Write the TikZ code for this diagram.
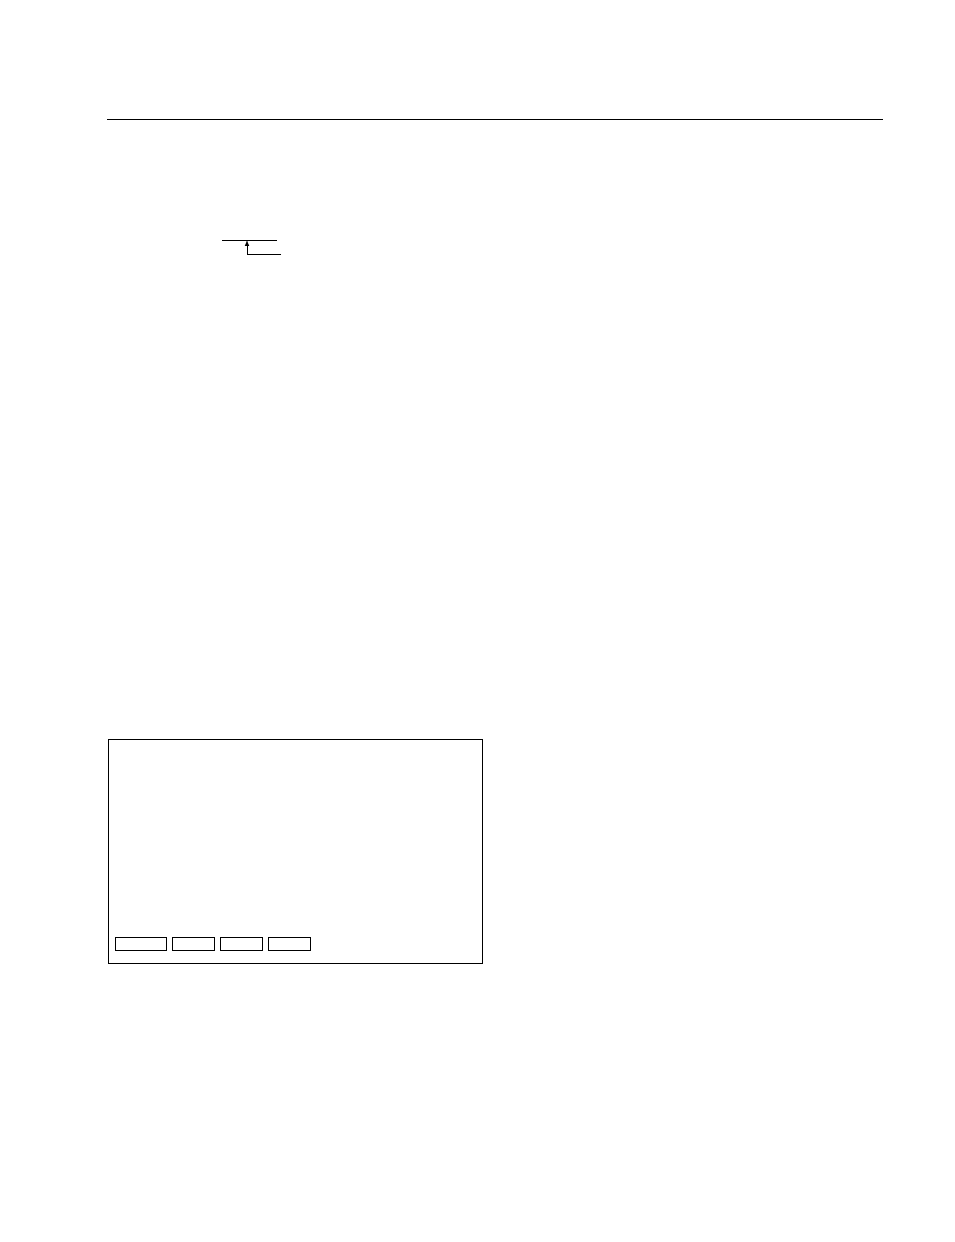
\documentclass[tikz,border=0pt]{standalone}
\usepackage{tikz}
\usetikzlibrary{positioning,arrows}
\tikzset{
	tab/.style={draw,rectangle,inner sep=0pt,minimum height=13pt,minimum width=42pt},
	panel/.style={draw,rectangle,inner sep=0pt,minimum width=374pt,minimum height=224pt,anchor=north west}
}
\begin{document}
\begin{tikzpicture}[x=1pt,y=-1pt,line width=1pt]
		\useasboundingbox (0,0) rectangle (954,1242);
		\draw (107,119) -- (883,119);
		% marker with arrow
		\coordinate (bar left) at (222,240);
		\coordinate (bar right) at (277,240);
		\draw (bar left) -- (bar right);
		\coordinate (tip) at (247,240);
		\coordinate (tail) at (281,254);
		\draw [-latex] (tail) -| (tip);
		% panel with tabs
		\node[panel] (screen) at (108,739) {};
		\node[tab,minimum width=51pt,anchor=north west] (tab1) at (115,937) {};
		\node[tab,right=5pt of tab1] (tab2) {};
		\node[tab,right=5pt of tab2] (tab3) {};
		\node[tab,right=5pt of tab3] (tab4) {};
	\end{tikzpicture}
\end{document}
